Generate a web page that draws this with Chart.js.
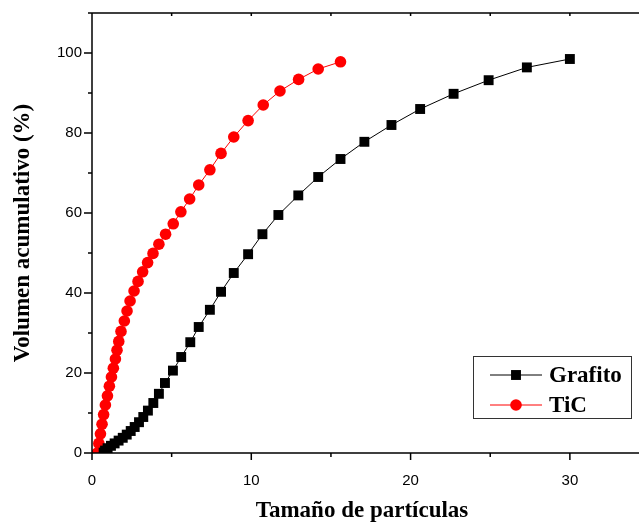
<!DOCTYPE html>
<html lang="es">
<head>
<meta charset="utf-8">
<title>Volumen acumulativo</title>
<script src="https://cdn.jsdelivr.net/npm/chart.js"></script>
<style>
  html, body { margin: 0; padding: 0; background: #fff; }
  canvas { display: block; }
</style>
</head>
<body>
<canvas id="psdChart" width="639" height="525"></canvas>
<script>
// particle size (x) and cumulative volume % (y) per sample
const grafitoSize = [0.73, 0.82, 0.98, 1.19, 1.42, 1.67, 1.93, 2.18, 2.43, 2.68, 2.95, 3.22,
  3.51, 3.85, 4.2, 4.58, 5.08, 5.6, 6.17, 6.7, 7.4, 8.1, 8.9, 9.8, 10.7, 11.7, 12.95,
  14.2, 15.6, 17.1, 18.8, 20.6, 22.7, 24.9, 27.3, 30.0];
const grafitoVol = [0.1, 0.6, 1.2, 1.8, 2.4, 3.1, 3.8, 4.6, 5.5, 6.5, 7.7, 9.0,
  10.6, 12.5, 14.8, 17.5, 20.6, 24.0, 27.7, 31.5, 35.8, 40.3, 45.0, 49.7, 54.7, 59.5, 64.4,
  69.0, 73.5, 77.8, 82.0, 86.0, 89.8, 93.2, 96.4, 98.5];

const ticSize = [0.33, 0.43, 0.53, 0.63, 0.73, 0.84, 0.97, 1.09, 1.22, 1.34, 1.47, 1.57,
  1.68, 1.82, 2.03, 2.2, 2.39, 2.64, 2.89, 3.18, 3.49, 3.83, 4.2, 4.62, 5.1, 5.58, 6.13,
  6.7, 7.4, 8.1, 8.9, 9.8, 10.75, 11.8, 12.97, 14.2, 15.6];
const ticVol = [0, 2.4, 4.8, 7.2, 9.6, 12.0, 14.3, 16.7, 19.0, 21.2, 23.5, 25.7,
  27.9, 30.4, 33.0, 35.5, 38.0, 40.5, 42.9, 45.3, 47.6, 49.9, 52.2, 54.7, 57.3, 60.3, 63.5,
  67.0, 70.8, 74.9, 79.0, 83.1, 87.0, 90.5, 93.4, 96.0, 97.8];

const seriesNames = ["Grafito", "TiC"];

// axis ranges; labelled ticks every 20 (y) and 10 (x), short ones in between
const xMax = 33.9;
const yMax = 110;
const xStep = 5;
const yStep = 10;

const serif = "'Liberation Serif', 'Times New Roman', serif";
const sans = "'Liberation Sans', Arial, sans-serif";

function toPoints(xs, ys) {
  return xs.map((x, i) => ({ x, y: ys[i] }));
}

// frame (top and bottom lines run on to the canvas edge) and tick marks
const frameTicks = {
  id: "frameTicks",
  afterDraw(chart) {
    const { ctx, chartArea: a, scales: { x, y } } = chart;
    const edge = chart.width;
    ctx.save();
    ctx.strokeStyle = "#000";
    ctx.lineWidth = 1.5;
    ctx.beginPath();
    ctx.moveTo(a.left, a.top);
    ctx.lineTo(a.left, a.bottom);
    ctx.lineTo(edge, a.bottom);
    ctx.moveTo(a.left, a.top);
    ctx.lineTo(edge, a.top);

    for (let v = 0; v <= xMax; v += xStep) {
      const px = x.getPixelForValue(v);
      const len = v % 10 === 0 ? 7 : 4;
      ctx.moveTo(px, a.bottom);
      ctx.lineTo(px, a.bottom + len);
      ctx.moveTo(px, a.top);
      ctx.lineTo(px, a.top + 3);
    }
    for (let v = 0; v <= yMax; v += yStep) {
      const py = y.getPixelForValue(v);
      const len = v % 20 === 0 ? 8 : 4;
      ctx.moveTo(a.left, py);
      ctx.lineTo(a.left - len, py);
    }
    ctx.stroke();
    ctx.restore();
  }
};

// boxed legend inside the plot, lower right
const boxLegend = {
  id: "boxLegend",
  afterDraw(chart) {
    const { ctx, chartArea: a } = chart;
    const w = 158, h = 62;
    const left = chart.width - 8 - w;
    const top = a.bottom - 35 - h;
    ctx.save();
    ctx.strokeStyle = "#333";
    ctx.lineWidth = 1;
    ctx.strokeRect(left + 0.5, top + 0.5, w, h);

    chart.data.datasets.forEach((ds, i) => {
      const cy = top + 19 + i * 30;
      const x0 = left + 17, x1 = left + 69, mx = left + 43;
      ctx.strokeStyle = ds.borderColor;
      ctx.lineWidth = 1;
      ctx.beginPath();
      ctx.moveTo(x0, cy);
      ctx.lineTo(x1, cy);
      ctx.stroke();

      ctx.fillStyle = ds.pointBackgroundColor;
      if (ds.pointStyle === "rect") {
        const s = ds.pointRadius * Math.SQRT1_2;
        ctx.fillRect(mx - s, cy - s, 2 * s, 2 * s);
      } else {
        ctx.beginPath();
        ctx.arc(mx, cy, ds.pointRadius, 0, Math.PI * 2);
        ctx.fill();
      }

      ctx.fillStyle = "#000";
      ctx.font = "bold 23px " + serif;
      ctx.textBaseline = "middle";
      ctx.fillText(ds.label, left + 76, cy + 1);
    });
    ctx.restore();
  }
};

function renderChart() {
  const ctx = document.getElementById("psdChart");

  new Chart(ctx, {
    type: "line",
    data: {
      datasets: [
        {
          label: seriesNames[0],
          data: toPoints(grafitoSize, grafitoVol),
          borderColor: "#000",
          backgroundColor: "#000",
          pointBackgroundColor: "#000",
          pointBorderWidth: 0,
          borderWidth: 1,
          pointStyle: "rect",
          pointRadius: 7,
          tension: 0
        },
        {
          label: seriesNames[1],
          data: toPoints(ticSize, ticVol),
          borderColor: "#ff0000",
          backgroundColor: "#ff0000",
          pointBackgroundColor: "#ff0000",
          pointBorderWidth: 0,
          borderWidth: 1,
          pointStyle: "circle",
          pointRadius: 5.8,
          tension: 0
        }
      ]
    },
    options: {
      responsive: false,
      animation: false,
      events: [],
      layout: { padding: { top: 13, left: 0, right: 0, bottom: 0 } },
      plugins: {
        legend: { display: false },
        tooltip: { enabled: false }
      },
      scales: {
        x: {
          type: "linear",
          min: 0,
          max: xMax,
          afterFit(scale) {
            scale.height = 72;
            scale.paddingLeft = 0;
            scale.paddingRight = 0;
          },
          grid: { display: false, drawTicks: false },
          border: { display: false },
          ticks: {
            stepSize: xStep,
            autoSkip: false,
            maxRotation: 0,
            padding: 19,
            color: "#000",
            font: { family: sans, size: 15 },
            callback: v => (v % 10 === 0 ? v : "")
          },
          title: {
            display: true,
            text: "Tamaño de partículas",
            color: "#000",
            font: { family: serif, size: 23, weight: "bold" },
            padding: { top: 0, bottom: 0 }
          }
        },
        y: {
          type: "linear",
          min: 0,
          max: yMax,
          afterFit(scale) {
            scale.width = 92;
            scale.paddingTop = 0;
            scale.paddingBottom = 0;
          },
          grid: { display: false, drawTicks: false },
          border: { display: false },
          ticks: {
            stepSize: yStep,
            autoSkip: false,
            padding: 10,
            color: "#000",
            font: { family: sans, size: 15 },
            callback: v => (v % 20 === 0 ? v : "")
          },
          title: {
            display: true,
            text: "Volumen acumulativo (%)",
            color: "#000",
            font: { family: serif, size: 23, weight: "bold" },
            padding: { top: 9, bottom: 0 }
          }
        }
      }
    },
    plugins: [frameTicks, boxLegend]
  });
}

renderChart();
</script>
</body>
</html>
